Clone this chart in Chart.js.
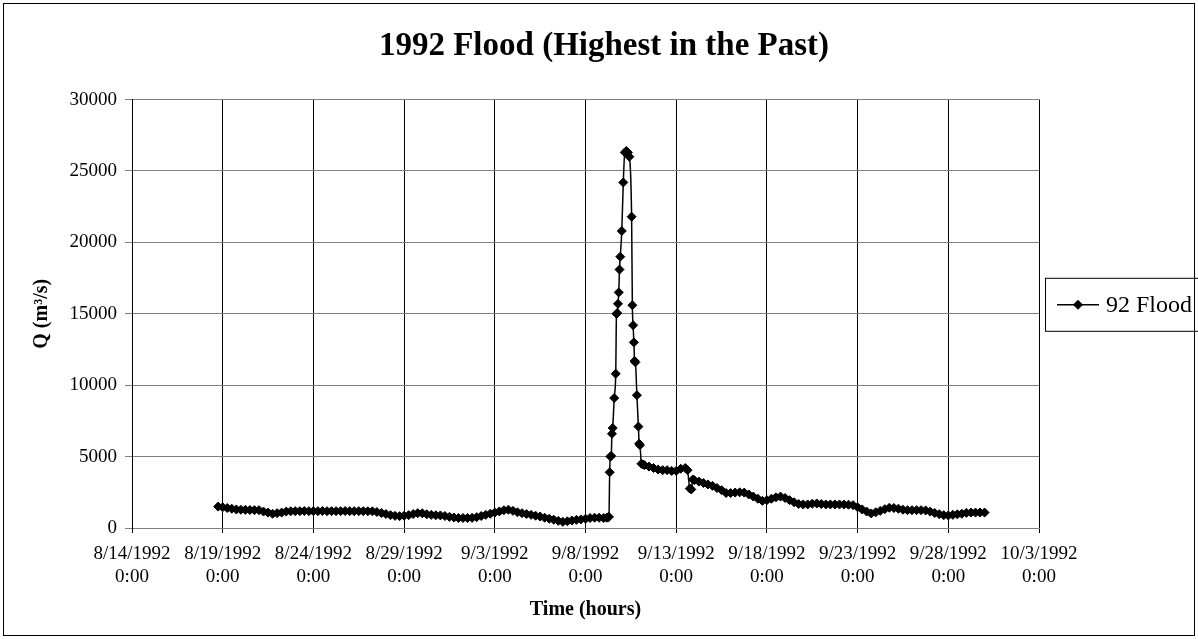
<!DOCTYPE html>
<html lang="en">
<head>
  <meta charset="UTF-8" />
  <title>1992 Flood (Highest in the Past)</title>
  <script src="https://cdn.jsdelivr.net/npm/chart.js"></script>
  <style>
    body {
      margin: 0;
      padding: 0;
      background: #fff;
    }
    canvas {
      display: block;
    }
  </style>
</head>
<body>
  <canvas id="floodChart" width="1198" height="639"></canvas>

  <script>
    // hours after 8/14/1992 0:00
    const hours = [
      114, 120, 126, 132, 138, 144, 150, 156, 162, 168,
      174, 180, 186, 192, 198, 204, 210, 216, 222, 228,
      234, 240, 246, 252, 258, 264, 270, 276, 282, 288,
      294, 300, 306, 312, 318, 324, 330, 336, 342, 348,
      354, 360, 366, 372, 378, 384, 390, 396, 402, 408,
      414, 420, 426, 432, 438, 444, 450, 456, 462, 468,
      474, 480, 486, 492, 498, 504, 510, 516, 522, 528,
      534, 540, 546, 552, 558, 564, 570, 576, 582, 588,
      594, 600, 606, 612, 618, 624, 628, 630, 631, 632,
      633, 634, 635, 636, 638, 640, 641, 642, 643, 644,
      645, 646, 648, 650, 652, 654, 656, 658, 661, 662,
      663, 664, 665, 666, 668, 670, 671, 672, 674, 676,
      678, 684, 690, 696, 702, 708, 714, 720, 726, 732,
      735, 738, 740, 742, 744, 750, 756, 762, 768, 774,
      780, 786, 792, 798, 804, 810, 816, 822, 828, 834,
      840, 846, 852, 858, 864, 870, 876, 882, 888, 894,
      900, 906, 912, 918, 924, 930, 936, 942, 948, 954,
      960, 966, 972, 978, 984, 990, 996, 1002, 1008, 1014,
      1020, 1026, 1032, 1038, 1044, 1050, 1056, 1062, 1068, 1074,
      1080, 1086, 1092, 1098, 1104, 1110, 1116, 1122, 1128
    ];

    // discharge Q (m3/s)
    const flow = [
      1500, 1450, 1400, 1350, 1300, 1280, 1270, 1260, 1250, 1250,
      1150, 1080, 1000, 1040, 1080, 1150, 1170, 1180, 1180, 1190,
      1180, 1180, 1180, 1190, 1180, 1180, 1180, 1180, 1190, 1180,
      1180, 1180, 1180, 1170, 1170, 1120, 1050, 980, 900, 850,
      830, 860, 900, 980, 1040, 1030, 960, 920, 900, 880,
      840, 780, 730, 700, 700, 700, 710, 760, 840, 920,
      1000, 1080, 1160, 1240, 1280, 1200, 1100, 1040, 980, 920,
      860, 800, 720, 650, 580, 500, 430, 470, 520, 570,
      600, 650, 700, 720, 720, 700, 720, 750, 780, 3900,
      5000, 5050, 6600, 7000, 9100, 10800, 15000, 15050, 15700, 16500,
      18100, 19000, 20800, 24200, 26300, 26400, 26300, 26000, 21800, 15600,
      14200, 13000, 11700, 11600, 9300, 7100, 5900, 5800, 4500, 4450,
      4400, 4300, 4200, 4100, 4050, 4050, 4000, 4000, 4150, 4200,
      4050, 2760, 2700, 3400, 3350, 3250, 3150, 3050, 2950, 2800,
      2650, 2450, 2450, 2480, 2500, 2480, 2350, 2200, 2050, 1900,
      1950, 2050, 2150, 2200, 2100, 1950, 1800, 1680, 1650, 1650,
      1700, 1720, 1680, 1650, 1650, 1650, 1650, 1640, 1630, 1600,
      1450, 1300, 1150, 1020, 1100, 1200, 1320, 1420, 1400, 1350,
      1280, 1250, 1250, 1250, 1250, 1230, 1150, 1050, 970, 900,
      880, 920, 960, 1000, 1060, 1080, 1080, 1080, 1080
    ];

    const seriesLabel = '92 Flood';
    const yTicks = [0, 5000, 10000, 15000, 20000, 25000, 30000];
    const startDate = Date.UTC(1992, 7, 14);

    const serif = "'Liberation Serif', 'Times New Roman', serif";

    // 時刻ラベル（m/d/yyyy と 0:00 の2行）
    function hourLabel(h) {
      const d = new Date(startDate + h * 3600000);
      return [(d.getUTCMonth() + 1) + '/' + d.getUTCDate() + '/' + d.getUTCFullYear(), '0:00'];
    }

    // 外枠
    const framePlugin = {
      id: 'frame',
      beforeDraw(chart) {
        const ctx = chart.ctx;
        ctx.save();
        ctx.fillStyle = '#fff';
        ctx.fillRect(0, 0, chart.width, chart.height);
        ctx.strokeStyle = '#000';
        ctx.lineWidth = 1;
        ctx.strokeRect(3.5, 3.5, chart.width - 7, chart.height - 7);
        ctx.restore();
      }
    };

    // 枠付きの凡例
    const boxLegendPlugin = {
      id: 'boxLegend',
      afterDraw(chart) {
        const ctx = chart.ctx;
        const ds = chart.data.datasets[0];
        const x0 = chart.chartArea.right + 6;
        const yc = (chart.chartArea.top + chart.chartArea.bottom) / 2 - 9;
        ctx.save();
        ctx.strokeStyle = '#000';
        ctx.lineWidth = 1;
        ctx.strokeRect(x0 + 0.5, yc - 26.5, 200, 53);
        ctx.strokeStyle = ds.borderColor;
        ctx.lineWidth = ds.borderWidth;
        ctx.beginPath();
        ctx.moveTo(x0 + 12, yc);
        ctx.lineTo(x0 + 54, yc);
        ctx.stroke();
        ctx.fillStyle = ds.pointBackgroundColor;
        ctx.strokeStyle = ds.pointBorderColor;
        ctx.lineWidth = ds.pointBorderWidth;
        Chart.helpers.drawPoint(ctx, {
          pointStyle: ds.pointStyle,
          radius: ds.pointRadius,
          borderWidth: ds.pointBorderWidth
        }, x0 + 33, yc);
        ctx.fillStyle = '#000';
        ctx.font = '24px ' + serif;
        ctx.textBaseline = 'middle';
        ctx.fillText(ds.label, x0 + 61, yc + 1);
        ctx.restore();
      }
    };

    const points = hours.map((h, i) => ({ x: h, y: flow[i] }));

    const ctx = document.getElementById('floodChart').getContext('2d');
    new Chart(ctx, {
      type: 'line',
      data: {
        datasets: [{
          label: seriesLabel,
          data: points,
          yAxisID: 'y',
          borderColor: '#000',
          borderWidth: 1.5,
          pointStyle: 'rectRot',
          pointRadius: 4.5,
          pointBorderWidth: 1,
          pointBackgroundColor: '#000',
          pointBorderColor: '#000',
          fill: false,
          cubicInterpolationMode: 'monotone'
        }]
      },
      options: {
        responsive: false,
        animation: false,
        layout: {
          padding: { left: 10, right: 0, top: 0, bottom: 0 }
        },
        plugins: {
          legend: { display: false },
          tooltip: { enabled: false },
          title: {
            display: true,
            text: '1992 Flood (Highest in the Past)',
            color: '#000',
            font: { family: serif, size: 33, weight: 'bold', lineHeight: 1.2 },
            padding: { top: 27, bottom: 33 }
          }
        },
        scales: {
          x: {
            type: 'linear',
            min: 0,
            max: 1200,
            afterFit(scale) { scale.height = 111; },
            afterBuildTicks(scale) {
              scale.ticks = [];
              for (let h = 0; h <= 1200; h += 120) scale.ticks.push({ value: h });
            },
            ticks: {
              color: '#000',
              font: { family: serif, size: 19, lineHeight: 1.2 },
              padding: 10,
              maxRotation: 0,
              autoSkip: false,
              callback: (v) => hourLabel(v)
            },
            grid: { color: '#000', lineWidth: 1, tickLength: 5 },
            border: { color: '#808080', width: 1 },
            title: {
              display: true,
              text: 'Time (hours)',
              color: '#000',
              font: { family: serif, size: 20, weight: 'bold', lineHeight: 1.2 },
              padding: { top: 0, bottom: 17 }
            }
          },
          y: {
            min: 0,
            max: 30000,
            afterFit(scale) { scale.width = 122; },
            afterBuildTicks(scale) {
              scale.ticks = yTicks.map(v => ({ value: v }));
            },
            ticks: {
              color: '#000',
              font: { family: serif, size: 19 },
              padding: 8,
              callback: (v) => String(v)
            },
            grid: { color: '#808080', lineWidth: 1, tickLength: 7 },
            border: { color: '#000', width: 1 },
            title: {
              display: true,
              text: 'Q (m³/s)',
              color: '#000',
              font: { family: serif, size: 20, weight: 'bold', lineHeight: 1.2 },
              padding: { top: 20, bottom: 0 }
            }
          },
          // 凡例用の右側スペース
          legendSpace: {
            type: 'linear',
            position: 'right',
            min: 0,
            max: 1,
            afterFit(scale) { scale.width = 159; },
            ticks: { display: false },
            grid: { display: false, drawTicks: false },
            border: { display: false }
          }
        }
      },
      plugins: [framePlugin, boxLegendPlugin]
    });
  </script>
</body>
</html>
